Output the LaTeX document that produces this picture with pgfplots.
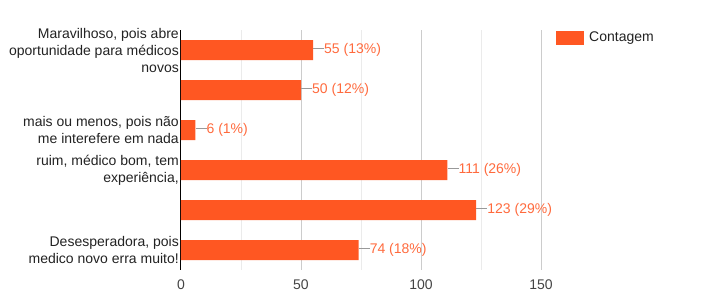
\documentclass[border=0pt]{standalone}
\usepackage{pgfplots}
\pgfplotsset{compat=1.18}
\usepackage{fontspec}
\setmainfont{Liberation Sans}
\definecolor{barc}{HTML}{FF5722}
\definecolor{valc}{HTML}{FF6A3D}
\definecolor{lbl}{HTML}{222222}
\definecolor{tickc}{HTML}{444444}
\definecolor{majg}{HTML}{CCCCCC}
\definecolor{ming}{HTML}{EBEBEB}
\definecolor{conn}{HTML}{999999}
\begin{document}
\begin{tikzpicture}[x=1pt,y=1pt]
\useasboundingbox (0,0) rectangle (722,300);
\begin{axis}[
  at={(181pt,30pt)}, anchor=south west,
  scale only axis, width=360pt, height=240pt,
  xbar, bar width=20pt,
  xmin=0, xmax=150, ymin=-0.5, ymax=5.5, y dir=reverse,
  axis x line=bottom, axis y line=left,
  axis line style={-},
  x axis line style={draw=none},
  y axis line style={draw=black, line width=1pt},
  xtick={0,50,100,150}, minor xtick={25,75,125},
  xmajorgrids, xminorgrids,
  major grid style={majg, line width=1pt},
  minor grid style={ming, line width=1pt},
  major tick length=0pt, minor tick length=0pt,
  ytick={0,1,2,3,4,5},
  yticklabels={{Maravilhoso, pois abre\\oportunidade para médicos\\novos},{},{mais ou menos, pois não\\me interefere em nada},{ruim, médico bom, tem\\experiência,},{},{Desesperadora, pois\\medico novo erra muito!}},
  yticklabel style={font=\fontsize{14}{17}\selectfont, align=right, text=lbl, inner xsep=2pt},
  xticklabel style={font=\fontsize{14}{16}\selectfont, text=tickc, yshift=-6pt},
  /pgf/number format/assume math mode=true,
  point meta=explicit symbolic,
  nodes near coords={\textcolor{conn}{\rule[0.33em]{11pt}{1pt}}\pgfplotspointmeta},
  every node near coord/.append style={anchor=west, font=\fontsize{14}{16}\selectfont, text=valc, inner xsep=0pt},
  legend style={at={(1.0417,1)}, anchor=north west, draw=none, fill=none, inner sep=0pt, font=\fontsize{14}{16}\selectfont, text=lbl},
  legend cell align=left,
  legend image code/.code={\fill[barc] (0pt,-7pt) rectangle (28pt,7pt);},
]
\addplot[fill=barc, draw=none] coordinates {
  (55,0) [55 (13\%)]
  (50,1) [50 (12\%)]
  (6,2) [6 (1\%)]
  (111,3) [111 (26\%)]
  (123,4) [123 (29\%)]
  (74,5) [74 (18\%)]
};
\addlegendentry{\hspace{3pt}Contagem}
\end{axis}
\end{tikzpicture}
\end{document}
